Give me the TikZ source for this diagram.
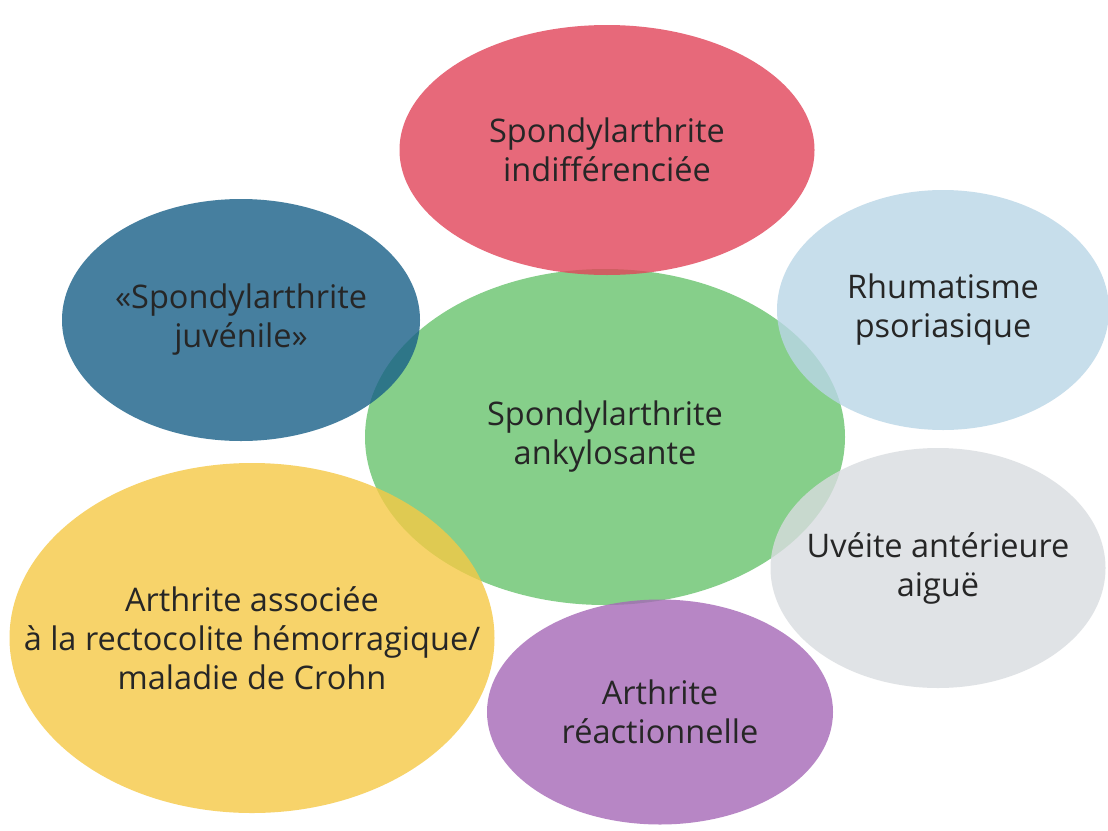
\documentclass[tikz,border=0pt]{standalone}
\usepackage{fontspec}
\setmainfont{Open Sans}
\usepackage{tikz}
\usetikzlibrary{shapes.geometric}

% fills are set so that at 80% they give the printed tints
\definecolor{ankylgreen}{RGB}{134,207,138}
\definecolor{indiffred}{RGB}{226,68,89}
\definecolor{juvblue}{RGB}{24,96,136}
\definecolor{psoblue}{RGB}{186,214,231}
\definecolor{uvegray}{RGB}{217,220,224}
\definecolor{mici}{RGB}{246,201,69}
\definecolor{reactpurple}{RGB}{166,104,183}

\tikzset{
  % negative inner sep: the size comes from minimum width/height only
  bubble/.style={ellipse, fill opacity=0.8, text opacity=1, inner sep=-70pt,
    align=center, text=black!85, font=\fontsize{32.5}{39}\selectfont},
}

\begin{document}
\begin{tikzpicture}[x=1pt, y=-1pt]
  \useasboundingbox[fill=white] (0,0) rectangle (1108,830);

  % centre
  \node[bubble, fill=ankylgreen, fill opacity=1, minimum width=480, minimum height=336]
    (spa) at (605,437) {Spondylarthrite\\ankylosante};

  % ring around it
  \node[bubble, fill=indiffred, minimum width=415, minimum height=250]
    (indiff) at (607,150) {Spondylarthrite\\indifférenciée};
  \node[bubble, fill=juvblue, minimum width=358, minimum height=242]
    (juv) at (241,320) {«Spondylarthrite\\juvénile»};
  \node[bubble, fill=psoblue, minimum width=332, minimum height=240]
    (pso) at (943,310) {Rhumatisme\\psoriasique};
  \node[bubble, fill=uvegray, minimum width=335, minimum height=240]
    (uveite) at (938,568) {Uvéite antérieure\\aiguë};
  \node[bubble, fill=mici, minimum width=485, minimum height=350]
    (mici) at (252,638) {Arthrite associée\\à la rectocolite hémorragique/\\maladie de Crohn};
  \node[bubble, fill=reactpurple, minimum width=346, minimum height=225]
    (react) at (660,712) {Arthrite\\réactionnelle};
\end{tikzpicture}
\end{document}
